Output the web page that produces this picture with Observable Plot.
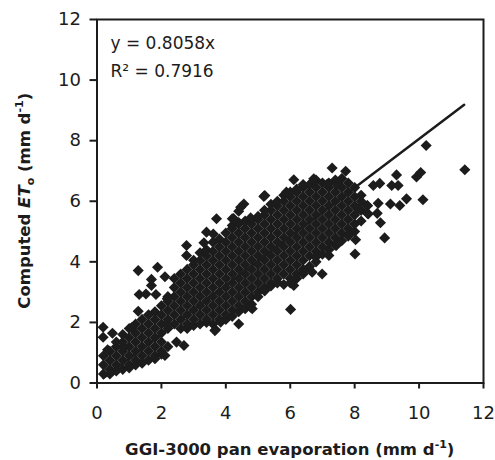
<!DOCTYPE html>
<html>
<head>
<meta charset="utf-8">
<script src="https://cdn.jsdelivr.net/npm/d3@7"></script>
<script src="https://cdn.jsdelivr.net/npm/@observablehq/plot@0.6"></script>
<style>
  body { margin: 0; background: #fff; }
</style>
</head>
<body>
<div id="chart"></div>
<script>
// Axis ticks (mm d-1)
const xTicks = [0, 2, 4, 6, 8, 10, 12];
const yTicks = [0, 2, 4, 6, 8, 10, 12];

// Regression through the origin
const slope = 0.8058;
const rSquared = 0.7916;
const fitRange = [0.2, 11.4];

// Main band: pan evaporation value, then the computed ETo values observed at it
const bandColumns = [
  [0.2, [0.3, 0.6, 0.9]],
  [0.4, [0.3, 0.45, 0.75, 1.05]],
  [0.6, [0.4, 0.6, 0.9, 1.2, 1.35]],
  [0.8, [0.45, 0.75, 1.05, 1.35, 1.6]],
  [1.0, [0.5, 0.6, 0.9, 1.2, 1.5, 1.8]],
  [1.2, [0.6, 0.75, 1.05, 1.35, 1.65, 1.95]],
  [1.4, [0.65, 0.9, 1.2, 1.5, 1.8, 2.1]],
  [1.6, [0.75, 1.05, 1.35, 1.65, 1.95, 2.25]],
  [1.8, [0.8, 0.9, 1.2, 1.5, 1.8, 2.1, 2.35]],
  [2.0, [0.95, 1.05, 1.35, 1.65, 1.95, 2.25, 2.55]],
  [2.2, [1.2, 1.8, 2.1, 2.4, 2.7, 2.85]],
  [2.4, [1.95, 2.25, 2.55, 2.85, 3.15, 3.45]],
  [2.6, [1.8, 2.1, 2.4, 2.7, 3.0, 3.3, 3.6]],
  [2.8, [1.8, 1.95, 2.25, 2.55, 2.85, 3.15, 3.45, 3.75]],
  [3.0, [1.9, 2.1, 2.4, 2.7, 3.0, 3.3, 3.6, 3.9, 4.05]],
  [3.2, [1.95, 2.25, 2.55, 2.85, 3.15, 3.45, 3.75, 4.05, 4.3]],
  [3.4, [2.0, 2.1, 2.4, 2.7, 3.0, 3.3, 3.6, 3.9, 4.2, 4.4]],
  [3.6, [1.95, 2.25, 2.55, 2.85, 3.15, 3.45, 3.75, 4.05, 4.35, 4.65]],
  [3.8, [2.1, 2.4, 2.7, 3.0, 3.3, 3.6, 3.9, 4.2, 4.5, 4.75]],
  [4.0, [2.1, 2.25, 2.55, 2.85, 3.15, 3.45, 3.75, 4.05, 4.35, 4.65, 4.95]],
  [4.2, [2.2, 2.4, 2.7, 3.0, 3.3, 3.6, 3.9, 4.2, 4.5, 4.8, 5.1, 5.2]],
  [4.4, [2.35, 2.55, 2.85, 3.15, 3.45, 3.75, 4.05, 4.35, 4.65, 4.95, 5.25, 5.3]],
  [4.6, [2.45, 2.7, 3.0, 3.3, 3.6, 3.9, 4.2, 4.5, 4.8, 5.1, 5.35]],
  [4.8, [2.6, 2.85, 3.15, 3.45, 3.75, 4.05, 4.35, 4.65, 4.95, 5.25, 5.4]],
  [5.0, [2.85, 3.0, 3.3, 3.6, 3.9, 4.2, 4.5, 4.8, 5.1, 5.4, 5.5]],
  [5.2, [3.05, 3.15, 3.45, 3.75, 4.05, 4.35, 4.65, 4.95, 5.25, 5.55, 5.7]],
  [5.4, [3.2, 3.3, 3.6, 3.9, 4.2, 4.5, 4.8, 5.1, 5.4, 5.7, 5.9]],
  [5.6, [3.3, 3.45, 3.75, 4.05, 4.35, 4.65, 4.95, 5.25, 5.55, 5.85, 6.0]],
  [5.8, [3.25, 3.6, 3.9, 4.2, 4.5, 4.8, 5.1, 5.4, 5.7, 6.0, 6.2]],
  [6.0, [3.3, 3.45, 3.75, 4.05, 4.35, 4.65, 4.95, 5.25, 5.55, 5.85, 6.15, 6.3]],
  [6.2, [3.45, 3.6, 3.9, 4.2, 4.5, 4.8, 5.1, 5.4, 5.7, 6.0, 6.3, 6.4]],
  [6.4, [3.6, 3.75, 4.05, 4.35, 4.65, 4.95, 5.25, 5.55, 5.85, 6.15, 6.45, 6.55]],
  [6.6, [3.85, 4.2, 4.5, 4.8, 5.1, 5.4, 5.7, 6.0, 6.3, 6.55]],
  [6.8, [4.0, 4.35, 4.65, 4.95, 5.25, 5.55, 5.85, 6.15, 6.45, 6.7]],
  [7.0, [4.25, 4.5, 4.8, 5.1, 5.4, 5.7, 6.0, 6.3, 6.6]],
  [7.2, [4.4, 4.65, 4.95, 5.25, 5.55, 5.85, 6.15, 6.45, 6.6]],
  [7.4, [4.55, 4.8, 5.1, 5.4, 5.7, 6.0, 6.3, 6.6, 6.7]],
  [7.6, [4.7, 4.95, 5.25, 5.55, 5.85, 6.15, 6.45, 6.75]],
  [7.8, [4.85, 5.1, 5.4, 5.7, 6.0, 6.3, 6.6]],
  [8.0, [5.0, 5.25, 5.55, 5.85, 6.15, 6.45]],
  [8.2, [5.35, 5.7, 6.0, 6.2]],
  [8.4, [5.6, 5.85]]
];

// Scattered observations around the band: [pan evaporation, computed ETo]
const scatterPoints = [
  [10.22, 7.84], [11.42, 7.04], [9.92, 6.8], [10.05, 6.95], [9.30, 6.87],
  [9.15, 6.52], [9.35, 6.52], [8.78, 6.59], [8.58, 6.52], [10.12, 6.05],
  [9.61, 6.08], [9.40, 5.86], [9.11, 5.91], [8.73, 5.93], [8.70, 5.60],
  [8.39, 5.86], [8.42, 5.58], [7.72, 6.99], [8.13, 5.75], [8.80, 5.29],
  [8.93, 4.79], [7.82, 4.89], [8.03, 4.73], [8.01, 4.26], [7.43, 4.54],
  [6.01, 2.43], [4.40, 1.95], [5.21, 3.05], [4.77, 2.50], [3.84, 2.01],
  [3.68, 1.76], [1.28, 2.37], [1.31, 2.92], [1.52, 2.94], [1.83, 2.92],
  [0.19, 1.84], [0.19, 1.51], [0.48, 1.64], [0.33, 1.10], [0.83, 1.18],
  [1.09, 1.84], [2.47, 1.35], [2.70, 1.24], [3.66, 1.73], [2.16, 1.95],
  [2.11, 0.91], [1.28, 3.71], [1.88, 3.82], [1.69, 3.42], [1.69, 3.22],
  [2.11, 3.51], [2.18, 2.78], [3.71, 5.42], [3.40, 4.98], [3.61, 4.92],
  [3.32, 4.63], [2.78, 4.54], [2.78, 4.21], [7.30, 7.10], [6.11, 6.71],
  [6.73, 6.74], [5.21, 6.19], [5.88, 6.30], [4.56, 5.91], [4.40, 5.67],
  [4.20, 5.42], [4.77, 5.45], [7.15, 6.57], [7.46, 6.57], [5.18, 6.16],
  [7.20, 4.21], [6.99, 3.60], [6.68, 3.66], [6.42, 3.71], [6.11, 3.22],
  [4.82, 2.45], [5.18, 3.11], [5.60, 3.33], [6.79, 4.15], [4.24, 5.43],
  [4.46, 5.80]
];

const observations = [];
for (const [pan, values] of bandColumns) for (const eto of values) observations.push({pan, eto});
for (const [pan, eto] of scatterPoints) observations.push({pan, eto});

const fitLine = fitRange.map((pan) => ({pan, eto: slope * pan}));

const ink = "#1c1c1c";
const font = "DejaVu Sans";

const chart = Plot.plot({
  width: 495,
  height: 460,
  marginTop: 19,
  marginRight: 12,
  marginBottom: 77.5,
  marginLeft: 96.5,
  style: {fontFamily: font, fontSize: "18px", color: ink, background: "#fff", overflow: "visible"},
  x: {domain: [0, 12], ticks: xTicks, tickSize: 6, tickPadding: 17, label: null},
  y: {domain: [0, 12], ticks: yTicks, tickSize: 7, tickPadding: 9, label: null},
  marks: [
    Plot.dot(observations, {x: "pan", y: "eto", symbol: "diamond2", r: 5, fill: ink, stroke: "none"}),
    Plot.line(fitLine, {x: "pan", y: "eto", stroke: ink, strokeWidth: 2.5}),
    Plot.frame({stroke: ink, strokeWidth: 2}),
    Plot.text([`y = ${slope}x`], {text: (d) => d, frameAnchor: "top-left", textAnchor: "start", lineAnchor: "bottom", dx: 13.5, dy: 29, fontSize: 17, fill: ink}),
    Plot.text([`R² = ${rSquared}`], {text: (d) => d, frameAnchor: "top-left", textAnchor: "start", lineAnchor: "bottom", dx: 13.5, dy: 57, fontSize: 17, fill: ink})
  ]
});

// Heavier tick marks
d3.select(chart)
  .selectAll('g[aria-label^="x-axis"] path, g[aria-label^="y-axis"] path, g[aria-label^="x-axis"] line, g[aria-label^="y-axis"] line')
  .attr("stroke-width", 2);

const svg = d3.select(chart);

// X axis title
const xt = svg.append("text")
  .attr("x", (96.5 + 483) / 2)
  .attr("y", 455)
  .attr("text-anchor", "middle")
  .attr("font-family", font)
  .attr("font-weight", "bold")
  .attr("font-size", 16.5)
  .attr("fill", ink);
xt.append("tspan").text("GGI-3000 pan evaporation (mm d");
xt.append("tspan").attr("dy", -7).attr("font-size", 11).text("-1");
xt.append("tspan").attr("dy", 7).text(")");

// Y axis title
const yt = svg.append("text")
  .attr("transform", `translate(30,${(19 + 382.5) / 2}) rotate(-90)`)
  .attr("text-anchor", "middle")
  .attr("font-family", font)
  .attr("font-weight", "bold")
  .attr("font-size", 16.5)
  .attr("fill", ink);
yt.append("tspan").text("Computed ");
yt.append("tspan").attr("font-style", "italic").text("ET");
yt.append("tspan").attr("dy", 4).attr("font-size", 11).text("o");
yt.append("tspan").attr("dy", -4).text(" (mm d");
yt.append("tspan").attr("dy", -7).attr("font-size", 11).text("-1");
yt.append("tspan").attr("dy", 7).text(")");

document.getElementById("chart").append(chart);
</script>
</body>
</html>
